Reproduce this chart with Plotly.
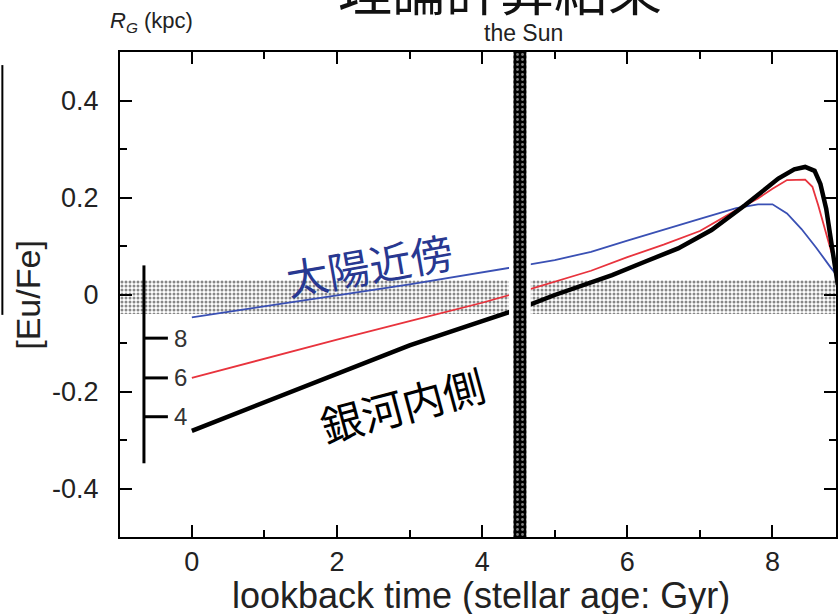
import plotly.graph_objects as go

# Model [Eu/Fe] evolution vs. lookback time for three galactocentric radii
t_r8 = [0, 1, 2, 3, 4, 4.5, 5, 5.5, 6, 6.5, 7, 7.5, 7.8, 8.0, 8.2, 8.4, 8.6, 8.8, 8.9]
eu_r8 = [-0.047, -0.025, -0.002, 0.021, 0.045, 0.058, 0.071, 0.088, 0.111, 0.134,
         0.156, 0.178, 0.186, 0.186, 0.167, 0.135, 0.097, 0.056, 0.037]

t_r6 = [0, 1, 2, 3, 4, 4.5, 5, 5.5, 6, 6.5, 7, 7.5, 7.8, 8.0, 8.2, 8.45, 8.55, 8.63, 8.72, 8.81, 8.9]
eu_r6 = [-0.172, -0.132, -0.093, -0.055, -0.017, 0.004, 0.027, 0.049, 0.077, 0.103,
         0.131, 0.174, 0.198, 0.218, 0.236, 0.237, 0.222, 0.184, 0.136, 0.088, 0.055]

t_r4 = [0, 1, 2, 3, 4, 4.5, 5, 5.33, 5.79, 6.25, 6.7, 7.16, 7.62, 8.08, 8.3, 8.45, 8.58, 8.66, 8.74, 8.83, 8.9]
eu_r4 = [-0.281, -0.222, -0.162, -0.105, -0.055, -0.03, -0.001, 0.016, 0.040, 0.068,
         0.095, 0.133, 0.184, 0.239, 0.258, 0.263, 0.255, 0.228, 0.177, 0.088, 0.02]

# Solar [Eu/Fe] range and solar age
solar_band = (-0.04, 0.03)
sun_age = 4.52
sun_half_width = 0.09

# R_G scale bar: radius labels and their positions on the [Eu/Fe] axis
rg_labels = ["8", "6", "4"]
rg_levels = [-0.09, -0.172, -0.252]

x_range = [-0.99, 8.875]
y_range = [-0.5, 0.5]

LATIN = "Liberation Sans, Arial, sans-serif"
CJK = "Noto Sans CJK JP, sans-serif"

fig = go.Figure()

# dotted band for the solar value
fig.add_trace(go.Scatter(
    x=[x_range[0], x_range[1], x_range[1], x_range[0], x_range[0]],
    y=[solar_band[0], solar_band[0], solar_band[1], solar_band[1], solar_band[0]],
    fill="toself", mode="lines", line=dict(width=0),
    fillcolor="rgba(0,0,0,0)",
    fillpattern=dict(shape=".", fgcolor="#111", bgcolor="white", size=4, solidity=0.45),
    hoverinfo="skip", showlegend=False,
))

fig.add_trace(go.Scatter(x=t_r8, y=eu_r8, mode="lines",
                         line=dict(color="#3a50b4", width=1.8), showlegend=False))
fig.add_trace(go.Scatter(x=t_r6, y=eu_r6, mode="lines",
                         line=dict(color="#e8333d", width=1.8), showlegend=False))
fig.add_trace(go.Scatter(x=t_r4, y=eu_r4, mode="lines",
                         line=dict(color="black", width=4.5), showlegend=False))

# white gap around the solar age marker
gap = sun_half_width + 0.06
fig.add_trace(go.Scatter(
    x=[sun_age - gap, sun_age + gap, sun_age + gap, sun_age - gap, sun_age - gap],
    y=[y_range[0], y_range[0], y_range[1], y_range[1], y_range[0]],
    fill="toself", mode="lines", line=dict(width=0), fillcolor="white",
    hoverinfo="skip", showlegend=False,
))
# solar age marker
fig.add_trace(go.Scatter(
    x=[sun_age - sun_half_width, sun_age + sun_half_width, sun_age + sun_half_width,
       sun_age - sun_half_width, sun_age - sun_half_width],
    y=[y_range[0] - 0.008, y_range[0] - 0.008, y_range[1], y_range[1], y_range[0] - 0.008],
    fill="toself", mode="lines", line=dict(width=0),
    fillcolor="rgba(0,0,0,0)",
    fillpattern=dict(shape=".", fgcolor="white", bgcolor="black", size=5, solidity=0.25),
    hoverinfo="skip", showlegend=False, cliponaxis=False,
))

shapes = []
# R_G scale bar
bar_x = -0.66
tick_end = -0.33
shapes.append(dict(type="line", xref="x", yref="y", x0=bar_x, x1=bar_x,
                   y0=0.06, y1=-0.348, line=dict(color="black", width=3)))
for lv in rg_levels:
    shapes.append(dict(type="line", xref="x", yref="y", x0=bar_x, x1=tick_end,
                       y0=lv, y1=lv, line=dict(color="black", width=3)))
# vertical rule at the far left
shapes.append(dict(type="line", xref="paper", yref="paper", x0=-0.1643, x1=-0.1643,
                   y0=0.973, y1=0.458, line=dict(color="black", width=2)))


def note(x, y, text, size, color="#222", family=LATIN, xref="paper", yref="paper", angle=0):
    return dict(x=x, y=y, xref=xref, yref=yref, text=text, textangle=angle,
                xanchor="center", yanchor="middle", showarrow=False,
                font=dict(family=family, size=size, color=color))


annotations = [note(-0.15, lv, lab, 24, "#333", xref="x", yref="y")
               for lab, lv in zip(rg_labels, rg_levels)]

annotations += [
    note(0.531, 1.132, "理論計算結果", 54, "#111", family=CJK),
    note(4.57, 1.04, "the Sun", 23, xref="x"),
    note(0.0446, 1.062, "<i>R</i><sub><i>G</i></sub> (kpc)", 22),
    note(2.445, 0.064, "太陽近傍", 42, "#283891", family=CJK, xref="x", yref="y", angle=-10),
    note(2.90, -0.225, "銀河内側", 42, "black", family=CJK, xref="x", yref="y", angle=-15),
    note(-0.1295, 0.5, "[Eu/Fe]", 34, angle=-90),
    note(0.504, -0.12, "lookback time (stellar age: Gyr)", 36),
]

axis_common = dict(
    showline=True, linecolor="black", linewidth=2, mirror="ticks",
    ticks="inside", ticklen=12, tickwidth=1.5, tickcolor="black",
    showgrid=False, zeroline=False,
    tickfont=dict(family=LATIN, size=27, color="#222"),
)

fig.update_xaxes(range=x_range, tickvals=[0, 2, 4, 6, 8],
                 minor=dict(ticks="inside", ticklen=7, tickwidth=1.5, tickcolor="black", dtick=1, tick0=0),
                 ticklabelstandoff=0, **axis_common)
fig.update_yaxes(range=y_range, tickvals=[-0.4, -0.2, 0, 0.2, 0.4],
                 ticktext=["-0.4", "-0.2", "0", "0.2", "0.4"],
                 minor=dict(ticks="inside", ticklen=7, tickwidth=1.5, tickcolor="black", dtick=0.1, tick0=0),
                 ticklabelstandoff=14, **axis_common)

fig.update_layout(
    width=838, height=614,
    margin=dict(l=120, r=0, t=52, b=77),
    paper_bgcolor="white", plot_bgcolor="white",
    shapes=shapes, annotations=annotations,
    showlegend=False,
)

fig.write_html("out.html")
